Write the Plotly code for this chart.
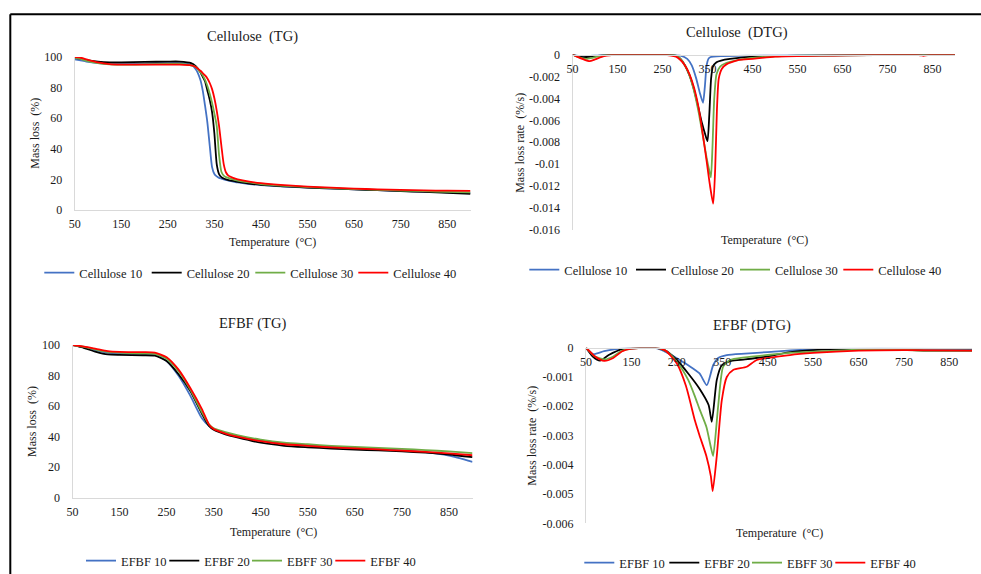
import plotly.graph_objects as go

W, H = 981, 574

# ---------------- data ----------------
series_cell = ["Cellulose 10", "Cellulose 20", "Cellulose 30", "Cellulose 40"]
series_efbf = ["EFBF 10", "EFBF 20", "EBFF 30", "EFBF 40"]
colors = ["#4472C4", "#000000", "#70AD47", "#FF0000"]

# Cellulose TG
t_cell_tg = [50, 60, 75, 100, 125, 150, 200, 250, 275, 300, 310, 320, 325, 330, 335, 340, 345, 350, 355,
             360, 365, 370, 375, 380, 390, 400, 425, 450, 500, 550, 600, 650, 700, 750, 800, 850, 900]
cell10_tg = [98.5, 98, 97, 96, 95.5, 95.5, 95.8, 96, 96, 95, 92, 85, 78, 68, 57, 42, 28, 23.5, 22,
             21, 20.5, 20, 19.6, 19.2, 18.6, 18, 17, 16.3, 15.3, 14.6, 14, 13.5, 13, 12.5, 12, 11.6, 11.2]
cell20_tg = [99.5, 99, 98, 97, 96.5, 96.5, 96.8, 97, 97, 96, 94, 90, 87, 84, 78, 72, 64, 50, 30,
             23.5, 21.5, 20.6, 20, 19.6, 19, 18.4, 17.3, 16.5, 15.5, 14.7, 14.1, 13.5, 13, 12.4, 11.8, 11.2, 10.5]
cell30_tg = [99.5, 99, 97.5, 96, 95.2, 95, 95.2, 95.5, 95.5, 94.5, 93.5, 90, 88, 85, 81, 76, 70, 63, 55,
             36, 25, 22.5, 21.5, 21, 20, 19.2, 18, 17, 15.8, 15, 14.3, 13.7, 13.2, 12.7, 12.3, 11.9, 11.5]
cell40_tg = [100, 99.8, 98.5, 96.5, 95.3, 95, 95, 95, 95, 94.5, 93.5, 91, 89.5, 88, 86, 83, 79, 73, 65,
             55, 42, 30, 24.5, 22.5, 21, 20, 18.5, 17.5, 16.2, 15.3, 14.6, 14, 13.5, 13.1, 12.8, 12.6, 12.5]

# Cellulose DTG (each curve with its own temperature points)
t_cell10_dtg = [50, 60, 75, 90, 110, 140, 250, 290, 305, 315, 325, 333, 340, 344, 348, 352, 356, 380, 450, 550, 900]
cell10_dtg = [0, -0.0001, -0.00015, -0.00012, -0.00005, 0, 0, -0.0001, -0.0004, -0.001, -0.0022, -0.0035,
              -0.0044, -0.003, -0.001, -0.0004, -0.00025, -0.00015, -0.0001, -0.00005, 0]
t_cell20_dtg = [50, 60, 75, 90, 110, 140, 250, 280, 290, 300, 310, 320, 330, 338, 345, 350, 354, 358, 362,
                370, 380, 400, 450, 550, 900]
cell20_dtg = [0, -0.00015, -0.00025, -0.0002, -0.0001, -0.00002, 0, -0.0001, -0.0004, -0.001, -0.0019, -0.0032,
              -0.0049, -0.0063, -0.0073, -0.0079, -0.0055, -0.0022, -0.0011, -0.0007, -0.00055, -0.0004,
              -0.0002, -0.0001, 0]
t_cell30_dtg = [50, 60, 80, 95, 115, 150, 250, 280, 290, 300, 310, 320, 330, 340, 348, 354, 357.5, 361, 365,
                370, 378, 390, 420, 450, 550, 900]
cell30_dtg = [0, -0.0002, -0.0004, -0.0003, -0.0001, 0, 0, -0.0001, -0.0004, -0.001, -0.0019, -0.0033,
              -0.0052, -0.0075, -0.0094, -0.0106, -0.0112, -0.0085, -0.004, -0.0018, -0.0011, -0.0008,
              -0.0005, -0.0003, -0.0001, 0]
t_cell40_dtg = [50, 60, 75, 88, 100, 120, 150, 250, 280, 290, 300, 310, 320, 330, 340, 348, 355, 362.6, 367,
                371, 375, 382, 392, 420, 450, 500, 600, 820, 830, 840, 900]
cell40_dtg = [0, -0.0002, -0.00045, -0.0006, -0.00045, -0.00015, 0, 0, -0.0002, -0.0005, -0.001, -0.0018,
              -0.003, -0.0048, -0.0074, -0.0097, -0.0118, -0.0136, -0.0105, -0.005, -0.0022, -0.0013,
              -0.0009, -0.0005, -0.0004, -0.0002, -0.0001, -0.00005, -0.00012, -0.00005, 0]

# EFBF TG
t_efbf_tg = [50, 75, 100, 125, 150, 200, 225, 250, 275, 300, 325, 340, 350, 375, 400, 450, 500, 550, 600,
             650, 700, 750, 800, 850, 900]
efbf10_tg = [100, 98.5, 96.5, 95, 94.5, 94.2, 93.8, 89.5, 80, 67, 52, 47, 45, 42.5, 40.5, 37.5, 35.5, 34.3,
             33.4, 32.5, 31.8, 31, 29.8, 27.5, 23.5]
efbf20_tg = [100, 98, 95.5, 93.8, 93.5, 93.3, 93, 89.5, 81, 70, 55, 47, 44.5, 41.5, 39.5, 36, 34, 33, 32.2,
             31.5, 31, 30.3, 29.5, 28.3, 26.5]
efbf30_tg = [100, 98.8, 97, 95.5, 95, 94.6, 94.2, 91, 83, 71, 56, 48, 45.5, 43, 41, 38, 36, 35, 34, 33.2,
             32.6, 32, 31.2, 30.3, 29.2]
efbf40_tg = [100, 99, 97.5, 96, 95.5, 95.3, 95, 92, 84, 72, 58, 48, 45, 42, 40, 37, 35, 34, 33, 32.3, 31.6,
             30.8, 30, 29, 27.8]

# EFBF DTG
t_efbf10_dtg = [50, 66, 90, 130, 150, 200, 220, 250, 275, 300, 316, 330, 341, 360, 400, 450, 550, 700, 900]
efbf10_dtg = [0, -0.00022, -0.00012, -0.00002, -0.00002, 0, -0.0001, -0.00036, -0.0006, -0.00088, -0.00128,
              -0.0006, -0.00035, -0.00025, -0.0002, -0.00015, -0.00005, -0.00002, -0.00005]
t_efbf20_dtg = [50, 65, 81, 100, 130, 150, 200, 225, 250, 275, 300, 320, 327, 338, 349, 370, 400, 450, 500,
                600, 700, 800, 900]
efbf20_dtg = [0, -0.0003, -0.00044, -0.00025, -0.00005, -0.00002, 0, -0.0001, -0.00042, -0.00088, -0.0014,
              -0.00196, -0.00253, -0.0011, -0.0006, -0.00045, -0.0004, -0.0003, -0.00015, -0.00005, -0.00005,
              -0.0001, -0.0001]
t_efbf30_dtg = [50, 70, 92, 110, 130, 150, 200, 225, 250, 275, 290, 300, 315, 325, 330, 341, 352, 367, 400,
                450, 500, 600, 700, 800, 900]
efbf30_dtg = [0, -0.0003, -0.0004, -0.0003, -0.0001, -0.00003, 0, -0.0001, -0.00048, -0.0011, -0.00167,
              -0.0021, -0.0027, -0.0034, -0.0037, -0.002, -0.00065, -0.00042, -0.00033, -0.00025, -0.00018,
              -0.0001, -0.00005, -0.0001, -0.0001]
t_efbf40_dtg = [50, 70, 90, 110, 130, 150, 200, 225, 250, 270, 290, 300, 315, 325, 329, 338, 349, 360, 374,
                404, 426, 499, 550, 650, 750, 900]
efbf40_dtg = [0, -0.0003, -0.00045, -0.00035, -0.00012, -0.00003, 0, -0.0001, -0.00054, -0.0013, -0.0025,
              -0.003, -0.0037, -0.0044, -0.0049, -0.0037, -0.0018, -0.001, -0.00076, -0.00065, -0.00042,
              -0.00025, -0.00018, -0.0001, -0.00008, -0.0001]

x_ticks = [50, 150, 250, 350, 450, 550, 650, 750, 850]
tg_ticks = [0, 20, 40, 60, 80, 100]
cell_dtg_ticks = [0, -0.002, -0.004, -0.006, -0.008, -0.01, -0.012, -0.014, -0.016]
cell_dtg_text = ["0", "-0.002", "-0.004", "-0.006", "-0.008", "-0.01", "-0.012", "-0.014", "-0.016"]
efbf_dtg_ticks = [0, -0.001, -0.002, -0.003, -0.004, -0.005, -0.006]
efbf_dtg_text = ["0", "-0.001", "-0.002", "-0.003", "-0.004", "-0.005", "-0.006"]

titles = ["Cellulose\u00a0 (TG)", "Cellulose\u00a0 (DTG)", "EFBF (TG)", "EFBF (DTG)"]
ytitles = ["Mass loss\u00a0 (%)", "Mass loss rate\u00a0 (%/s)", "Mass loss\u00a0 (%)", "Mass loss rate\u00a0 (%/s)"]
xtitle = "Temperature\u00a0 (°C)"

# ---------------- geometry (pixels) ----------------
FONT = "Liberation Serif, Times New Roman, serif"
TXT = "#1a1a1a"
AX = "#d9d9d9"


def px(x):
    return x / W


def py(y):
    return 1 - y / H


# plot areas: (left, right, top, bottom) in px
areas = [(74.7, 470.5, 57.0, 210.0),
         (572.5, 955.0, 54.5, 230.0),
         (72.5, 472.5, 345.0, 497.7),
         (586.0, 972.0, 347.7, 523.3)]

# legend entry positions: (line-start x px list, y centre px)
legend_pos = [
    ([53.3, 160.7, 264.3, 367.3], 273),
    ([538.3, 645.0, 749.0, 852.3], 270),
    ([95.0, 178.3, 261.0, 344.3], 561),
    ([593.3, 678.3, 761.0, 844.3], 563),
]

fig = go.Figure()

panels = [
    (series_cell, [(t_cell_tg, cell10_tg), (t_cell_tg, cell20_tg), (t_cell_tg, cell30_tg), (t_cell_tg, cell40_tg)]),
    (series_cell, [(t_cell10_dtg, cell10_dtg), (t_cell20_dtg, cell20_dtg), (t_cell30_dtg, cell30_dtg),
                   (t_cell40_dtg, cell40_dtg)]),
    (series_efbf, [(t_efbf_tg, efbf10_tg), (t_efbf_tg, efbf20_tg), (t_efbf_tg, efbf30_tg), (t_efbf_tg, efbf40_tg)]),
    (series_efbf, [(t_efbf10_dtg, efbf10_dtg), (t_efbf20_dtg, efbf20_dtg), (t_efbf30_dtg, efbf30_dtg),
                   (t_efbf40_dtg, efbf40_dtg)]),
]

layout = dict(
    width=W, height=H, margin=dict(l=0, r=0, t=0, b=0, autoexpand=False),
    paper_bgcolor="white", plot_bgcolor="white",
    font=dict(family=FONT, size=12, color=TXT),
    showlegend=True,
)

k = 0
for p, (names, data) in enumerate(panels):
    sfx = "" if p == 0 else str(p + 1)
    xs_leg, y_leg = legend_pos[p]
    for i, (xs, ys) in enumerate(data):
        k += 1
        lname = "legend" if k == 1 else "legend%d" % k
        fig.add_trace(go.Scatter(
            x=xs, y=ys, mode="lines", name=names[i],
            line=dict(color=colors[i], width=1.8, shape="spline", smoothing=0.6),
            xaxis="x" + sfx, yaxis="y" + sfx, legend=lname,
        ))
        layout[lname] = dict(
            orientation="h", x=px(xs_leg[i] - 14), y=py(y_leg), xanchor="left", yanchor="middle",
            bgcolor="rgba(0,0,0,0)", font=dict(family=FONT, size=12.5, color=TXT), itemclick=False,
        )

yranges = [[0, 100], [-0.016, 0], [0, 100], [-0.006, 0]]
yticks = [(tg_ticks, None), (cell_dtg_ticks, cell_dtg_text), (tg_ticks, None), (efbf_dtg_ticks, efbf_dtg_text)]

for p, (l, r, t, b) in enumerate(areas):
    sfx = "" if p == 0 else str(p + 1)
    dtg = p in (1, 3)
    xa = dict(domain=[px(l), px(r)], range=[50, 900], tickvals=x_ticks, showgrid=False, zeroline=False,
              showline=True, linecolor=AX, linewidth=1, ticks="", ticklabelstandoff=3,
              tickfont=dict(family=FONT, size=12, color=TXT))
    if dtg:
        xa.update(anchor="free", position=py(t))
    else:
        xa.update(anchor="y" + sfx)
    ya = dict(domain=[py(b), py(t)], range=yranges[p], tickvals=yticks[p][0], showgrid=False, zeroline=False,
              showline=True, linecolor=AX, linewidth=1, ticks="", ticklabelstandoff=9,
              anchor="x" + sfx, tickfont=dict(family=FONT, size=12, color=TXT))
    if yticks[p][1] is not None:
        ya["ticktext"] = yticks[p][1]
    layout["xaxis" + sfx] = xa
    layout["yaxis" + sfx] = ya

annotations = []
title_pos = [(252, 36), (737, 33), (252, 323.5), (752, 325)]
for p, (x, y) in enumerate(title_pos):
    annotations.append(dict(text=titles[p], x=px(x), y=py(y), xref="paper", yref="paper", showarrow=False,
                            xanchor="center", yanchor="middle", font=dict(family=FONT, size=14.5, color=TXT)))
ytitle_pos = [(35, 133.7), (519.3, 142.5), (32, 422), (531.7, 436)]
for p, (x, y) in enumerate(ytitle_pos):
    annotations.append(dict(text=ytitles[p], x=px(x), y=py(y), xref="paper", yref="paper", showarrow=False,
                            textangle=-90, xanchor="center", yanchor="middle",
                            font=dict(family=FONT, size=12, color=TXT)))
xtitle_pos = [(272, 242), (764, 240), (273, 532), (779, 533)]
for p, (x, y) in enumerate(xtitle_pos):
    annotations.append(dict(text=xtitle, x=px(x), y=py(y), xref="paper", yref="paper", showarrow=False,
                            xanchor="center", yanchor="middle", font=dict(family=FONT, size=12, color=TXT)))
layout["annotations"] = annotations

# outer frame (top and left edges visible)
layout["shapes"] = [
    dict(type="line", xref="paper", yref="paper", x0=px(10.3), x1=1.0, y0=py(14.3), y1=py(14.3),
         line=dict(color="black", width=2)),
    dict(type="line", xref="paper", yref="paper", x0=px(10.3), x1=px(10.3), y0=py(14.3), y1=0,
         line=dict(color="black", width=2)),
]

fig.update_layout(**layout)
fig.write_html("out.html")
